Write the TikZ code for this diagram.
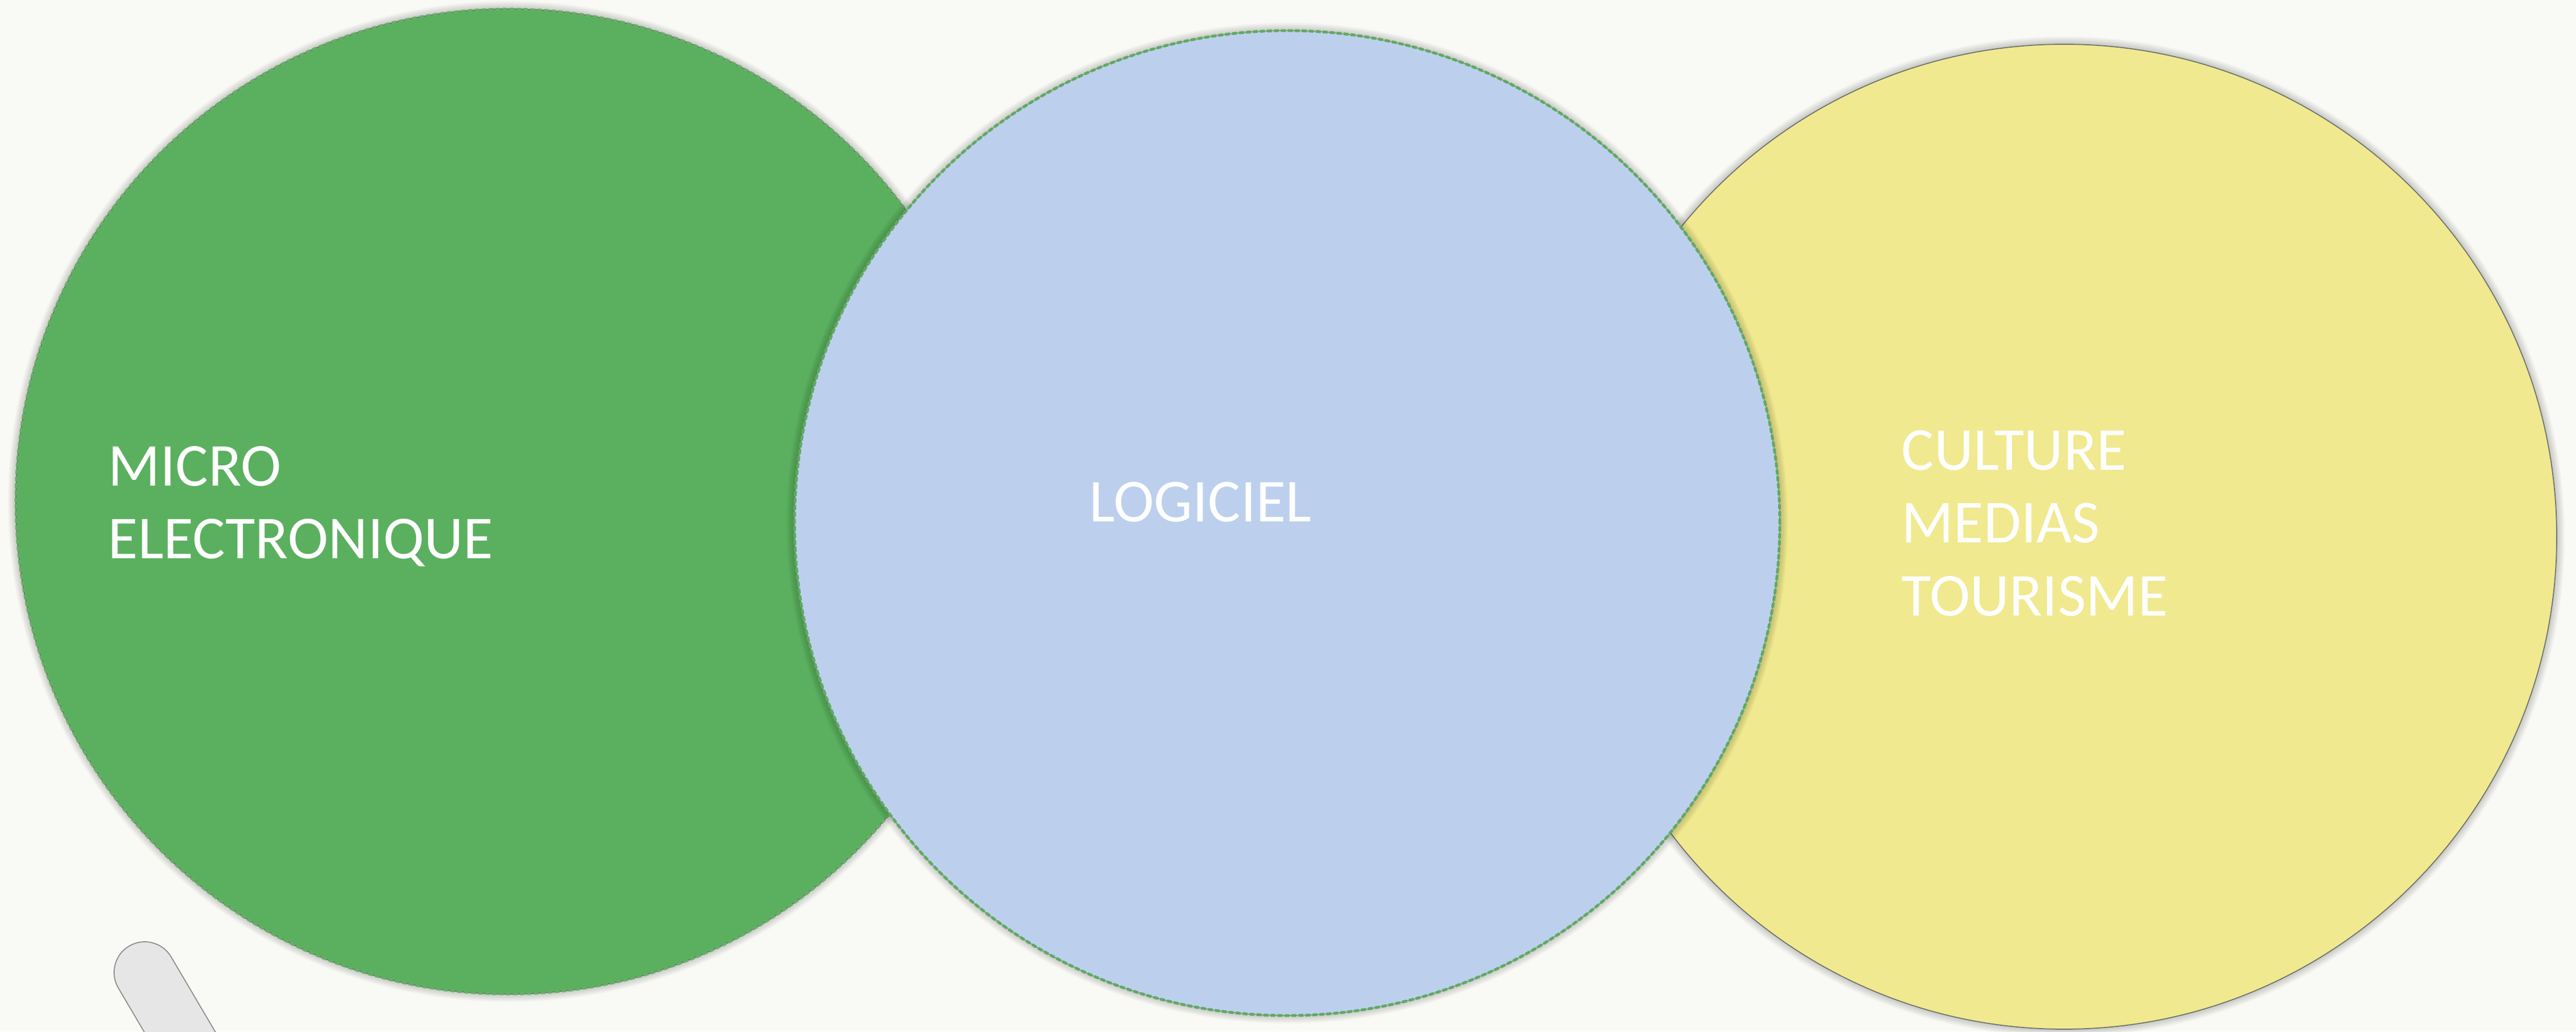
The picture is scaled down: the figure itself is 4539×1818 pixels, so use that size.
\documentclass[tikz,border=0pt]{standalone}
\usepackage{fontspec}
\setmainfont{Carlito}
\definecolor{bgc}{RGB}{249,250,245}
\definecolor{greenf}{RGB}{90,176,94}
\definecolor{bluef}{RGB}{188,208,237}
\definecolor{yellowf}{RGB}{240,233,143}
\definecolor{dashg}{RGB}{100,176,102}
\definecolor{dashb}{RGB}{92,172,96}
\definecolor{edgeg}{RGB}{110,115,110}
\definecolor{pillf}{RGB}{230,230,230}
\definecolor{pilld}{RGB}{140,140,140}
\begin{document}
\begin{tikzpicture}[x=0.01cm,y=0.01cm,
  lbl/.style={anchor=base west, inner sep=0pt, text=white, font=\fontsize{30.6}{37}\selectfont},
  disc/.style={circle, minimum size=17.36cm, inner sep=0pt, outer sep=0pt},
  shadowring/.style={draw=black, opacity=0.025, line width=#1}]
\useasboundingbox (0,0) rectangle (4539,1818);
\fill[bgc] (0,0) rectangle (4539,1818);
\begin{scope}
\clip (0,0) rectangle (4539,1818);
% pill shape bottom-left
\begin{scope}[shift={(255,104)}, rotate=-59.5]
  \filldraw[fill=pillf, draw=pilld, line width=0.5pt, rounded corners=0.54cm] (-54,-54) rectangle (400,54);
\end{scope}
% green circle
\foreach \w in {1,2,...,8} \draw[shadowring=\w pt] (896,934) circle (868);
\node[disc, fill=greenf] (green) at (896,934) {};
\draw[edgeg, line width=0.5pt] (green.center) circle (868);
\draw[dashg, line width=1.3pt, dash pattern=on 2.3pt off 1.2pt] (green.center) circle (868);
% yellow circle
\foreach \w in {1,2,...,8} \draw[shadowring=\w pt] (3637,872) circle (868);
\node[disc, fill=yellowf] (yellow) at (3637,872) {};
\draw[edgeg, line width=0.5pt] (yellow.center) circle (868);
% blue circle
\foreach \w in {1,2,...,8} \draw[shadowring=\w pt] (2268,896) circle (868);
\node[disc, fill=bluef] (blue) at (2268,896) {};
\draw[edgeg!80, line width=0.5pt] (blue.center) circle (868);
\draw[dashb, line width=1.4pt, dash pattern=on 2.4pt off 1.1pt] (blue.center) circle (868);
\end{scope}
% labels
\node[lbl] (micro1) at (190,961) {MICRO};
\node[lbl] (micro2) at (190,833) {ELECTRONIQUE};
\node[lbl] (logiciel) at (1919,898) {LOGICIEL};
\node[lbl] (culture) at (3350,989) {CULTURE};
\node[lbl] (medias) at (3350,861) {MEDIAS};
\node[lbl] (tourisme) at (3350,732) {TOURISME};
\end{tikzpicture}
\end{document}
